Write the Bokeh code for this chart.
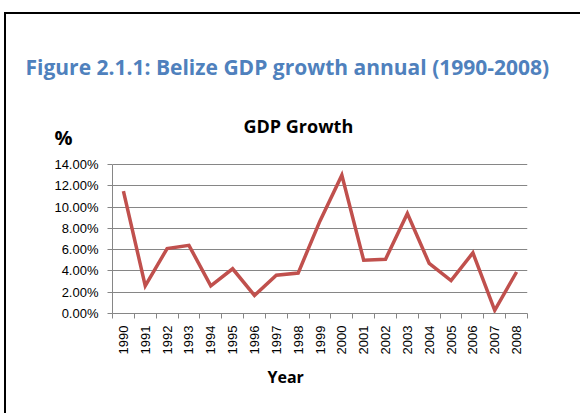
import math
from bokeh.plotting import figure
from bokeh.models import Range1d, FixedTicker, PrintfTickFormatter, Title
from bokeh.embed import file_html
from bokeh.resources import INLINE

years = list(range(1990, 2009))
growth_pct = [11.5, 2.6, 6.1, 6.4, 2.6, 4.2, 1.7, 3.6, 3.8, 8.7, 13.0,
              5.0, 5.1, 9.4, 4.7, 3.1, 5.7, 0.3, 3.9]
y_ticks = [0, 2, 4, 6, 8, 10, 12, 14]

fig_title = "Figure 2.1.1: Belize GDP growth annual (1990-2008)"
chart_title = "GDP Growth"
x_label = "Year"
y_label = "%"

p = figure(width=576, height=401, output_backend="svg", toolbar_location=None,
           x_range=Range1d(1989.5, 2008.5), y_range=Range1d(0, 16.537),
           min_border_left=106, min_border_right=55, min_border_top=123,
           min_border_bottom=102)
p.styles = {"margin-left": "4px", "margin-top": "12px",
            "border-top": "2px solid #000", "border-left": "2px solid #000"}
p.outline_line_color = None
p.background_fill_color = "white"
p.border_fill_color = "white"

p.line(years, growth_pct, line_color="#C0504D", line_width=3.5, line_join="miter")

# x axis
xt = FixedTicker(ticks=years, minor_ticks=[y - 0.5 for y in years] + [2008.5])
p.xaxis.ticker = xt
p.xaxis.major_label_orientation = math.pi / 2
p.xaxis.major_tick_line_color = None
p.xaxis.minor_tick_line_color = "#868686"
p.xaxis.minor_tick_out = 5
p.xaxis.minor_tick_in = 0
p.xaxis.axis_line_color = "#868686"
p.xaxis.major_label_text_font = "Liberation Sans"
p.xaxis.major_label_text_font_size = "13px"
p.xaxis.major_label_text_color = "black"
p.xaxis.major_label_standoff = 6

# y axis
p.yaxis.ticker = FixedTicker(ticks=y_ticks, minor_ticks=[])
p.yaxis.bounds = (0, 14)
p.yaxis.formatter = PrintfTickFormatter(format="%.2f%%")
p.yaxis.axis_line_color = "#868686"
p.yaxis.major_tick_line_color = "#868686"
p.yaxis.major_tick_out = 5
p.yaxis.major_tick_in = 0
p.yaxis.major_label_text_font = "Liberation Sans"
p.yaxis.major_label_text_font_size = "13px"
p.yaxis.major_label_text_color = "black"
p.yaxis.major_label_standoff = 9
p.yaxis.axis_label = y_label
p.yaxis.axis_label_orientation = "horizontal"
p.yaxis.axis_label_text_font = "Open Sans"
p.yaxis.axis_label_text_font_style = "bold"
p.yaxis.axis_label_text_font_size = "20px"
p.yaxis.axis_label_text_color = "black"
p.yaxis.axis_label_standoff = -21
try:
    p.yaxis.axis_label_align = "end"
except Exception:
    pass

p.xgrid.grid_line_color = None
p.ygrid.ticker = FixedTicker(ticks=y_ticks)
p.ygrid.grid_line_color = "#868686"
p.ygrid.grid_line_width = 1

t_gdp = Title(text=chart_title, align="left", offset=131, standoff=0,
              text_font="Open Sans", text_font_style="bold", text_font_size="18px",
              text_color="black")
t_fig = Title(text=fig_title, align="left", offset=-87, standoff=62,
              text_font="Open Sans", text_font_style="bold", text_font_size="21px",
              text_color="#4F81BD")
p.add_layout(t_gdp, "above")
p.add_layout(t_fig, "above")

t_year = Title(text=x_label, align="left", offset=155, standoff=12,
               text_font="Open Sans", text_font_style="bold", text_font_size="16px",
               text_color="black")
p.add_layout(t_year, "below")

open("out.html", "w").write(file_html(p, INLINE))
